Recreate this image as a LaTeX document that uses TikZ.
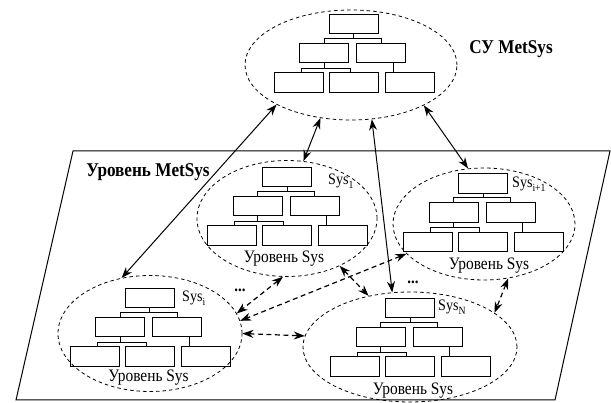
\documentclass[tikz,border=0pt]{standalone}
\usepackage{fontspec}
\setmainfont{Liberation Serif}[FakeStretch=0.88]
\usetikzlibrary{shapes.geometric,arrows.meta}
\newcommand\lowsub[1]{\raisebox{-0.45ex}{\fontsize{11}{11}\selectfont #1}}
\newcommand\systree[3]{%
  \node[tbox] (#1t) at (#2,#3) {};
  \node[tbox] (#1ml) at (#2-29.5,#3+29) {};
  \node[tbox] (#1mr) at (#2+27.5,#3+29) {};
  \node[tbox] (#1bl) at (#2-55,#3+58.5) {};
  \node[tbox] (#1bm) at (#2,#3+58.5) {};
  \node[tbox] (#1br) at (#2+56,#3+58.5) {};
  \draw[conn] (#1t.south) -- ++(0,4) coordinate (#1j);
  \draw[conn] (#1ml.north) |- (#1j) -| (#1mr.north);
  \draw[conn] (#1ml.south) -- ++(0,5) coordinate (#1k);
  \draw[conn] ([xshift=2.5pt]#1bl.north) |- (#1k) -| ([xshift=-3.5pt]#1bm.north);
  \draw[conn] ([xshift=12pt]#1mr.south) -- ([xshift=-16.5pt]#1br.north);
}
\tikzset{
  tbox/.style={draw, line width=1pt, minimum width=49pt, minimum height=19.5pt, inner sep=0pt},
  conn/.style={line width=0.9pt},
  sysell/.style={ellipse, draw, line width=0.8pt, dash pattern=on 3.5pt off 3pt, inner sep=0pt},
  biarrow/.style={{Stealth[length=11pt,width=8pt]}-{Stealth[length=11pt,width=8pt]}, line width=1pt},
  dbiarrow/.style={biarrow, line width=1.2pt, dash pattern=on 5pt off 3.5pt},
  lvl/.style={font=\fontsize{17.5}{18}\selectfont, inner sep=0pt},
  bold/.style={font=\fontsize{19.5}{20}\selectfont\bfseries, inner sep=0pt},
  syslbl/.style={font=\fontsize{16}{17}\selectfont, inner sep=0pt, anchor=base west},
  dots/.style={font=\fontsize{17}{17}\selectfont\bfseries, inner sep=0pt}
}
\begin{document}
\begin{tikzpicture}[x=1pt, y=-1pt]
\useasboundingbox (0,0) rectangle (611,403);
% plane
\draw[line width=1pt] (73,151) -- (610,151) -- (555,400) -- (16,400) -- cycle;
% ellipses
\node[sysell, minimum width=212pt, minimum height=110pt] (e0) at (351,65) {};
\node[sysell, minimum width=180pt, minimum height=116pt] (e1) at (287,218.5) {};
\node[sysell, minimum width=184pt, minimum height=116pt] (ei) at (150,333.5) {};
\node[sysell, minimum width=182pt, minimum height=112pt] (ei1) at (484,224) {};
\node[sysell, minimum width=214pt, minimum height=110pt] (eN) at (410,347) {};
% trees
\systree{a}{353.5}{24}
\systree{b}{287}{177}
\systree{c}{149.5}{298}
\systree{d}{483}{183.5}
\systree{f}{410}{308}
% texts
\node[bold] (tcy) at (511,49) {СУ MetSys};
\node[bold] (tlev) at (148,172) {Уровень MetSys};
\node[syslbl] (s1) at (328,185) {Sys\lowsub{1}};
\node[syslbl] (si) at (182,302) {Sys\lowsub{i}};
\node[syslbl] (si1) at (512,188) {Sys\lowsub{i+1}};
\node[syslbl] (sN) at (438,311) {Sys\lowsub{N}};
\node[lvl, anchor=base] (l1) at (284,263) {Уровень Sys};
\node[lvl, anchor=base] (li) at (148.5,382) {Уровень Sys};
\node[lvl, anchor=base] (li1) at (489,270) {Уровень Sys};
\node[lvl, anchor=base] (lN) at (413,395) {Уровень Sys};
\node[dots] (d1) at (240,290) {...};
\node[dots] (d2) at (413,282) {...};
% solid arrows
\draw[biarrow] (e0.208) -- (ei.117);
\draw[biarrow] (e0.240) -- (e1.74);
\draw[biarrow] (e0.291) -- (eN.108);
\draw[biarrow] (e0.331) -- (ei1.106);
% dashed arrows
\draw[dbiarrow] (e1.318) -- (eN.129);
\draw[dbiarrow] (ei1.201) -- (ei.8);
\draw[dbiarrow] (e1.266) -- (ei.13);
\draw[dbiarrow] (ei.0) -- (eN.174);
\draw[dbiarrow] (ei1.294) -- (eN.22);
\end{tikzpicture}
\end{document}
